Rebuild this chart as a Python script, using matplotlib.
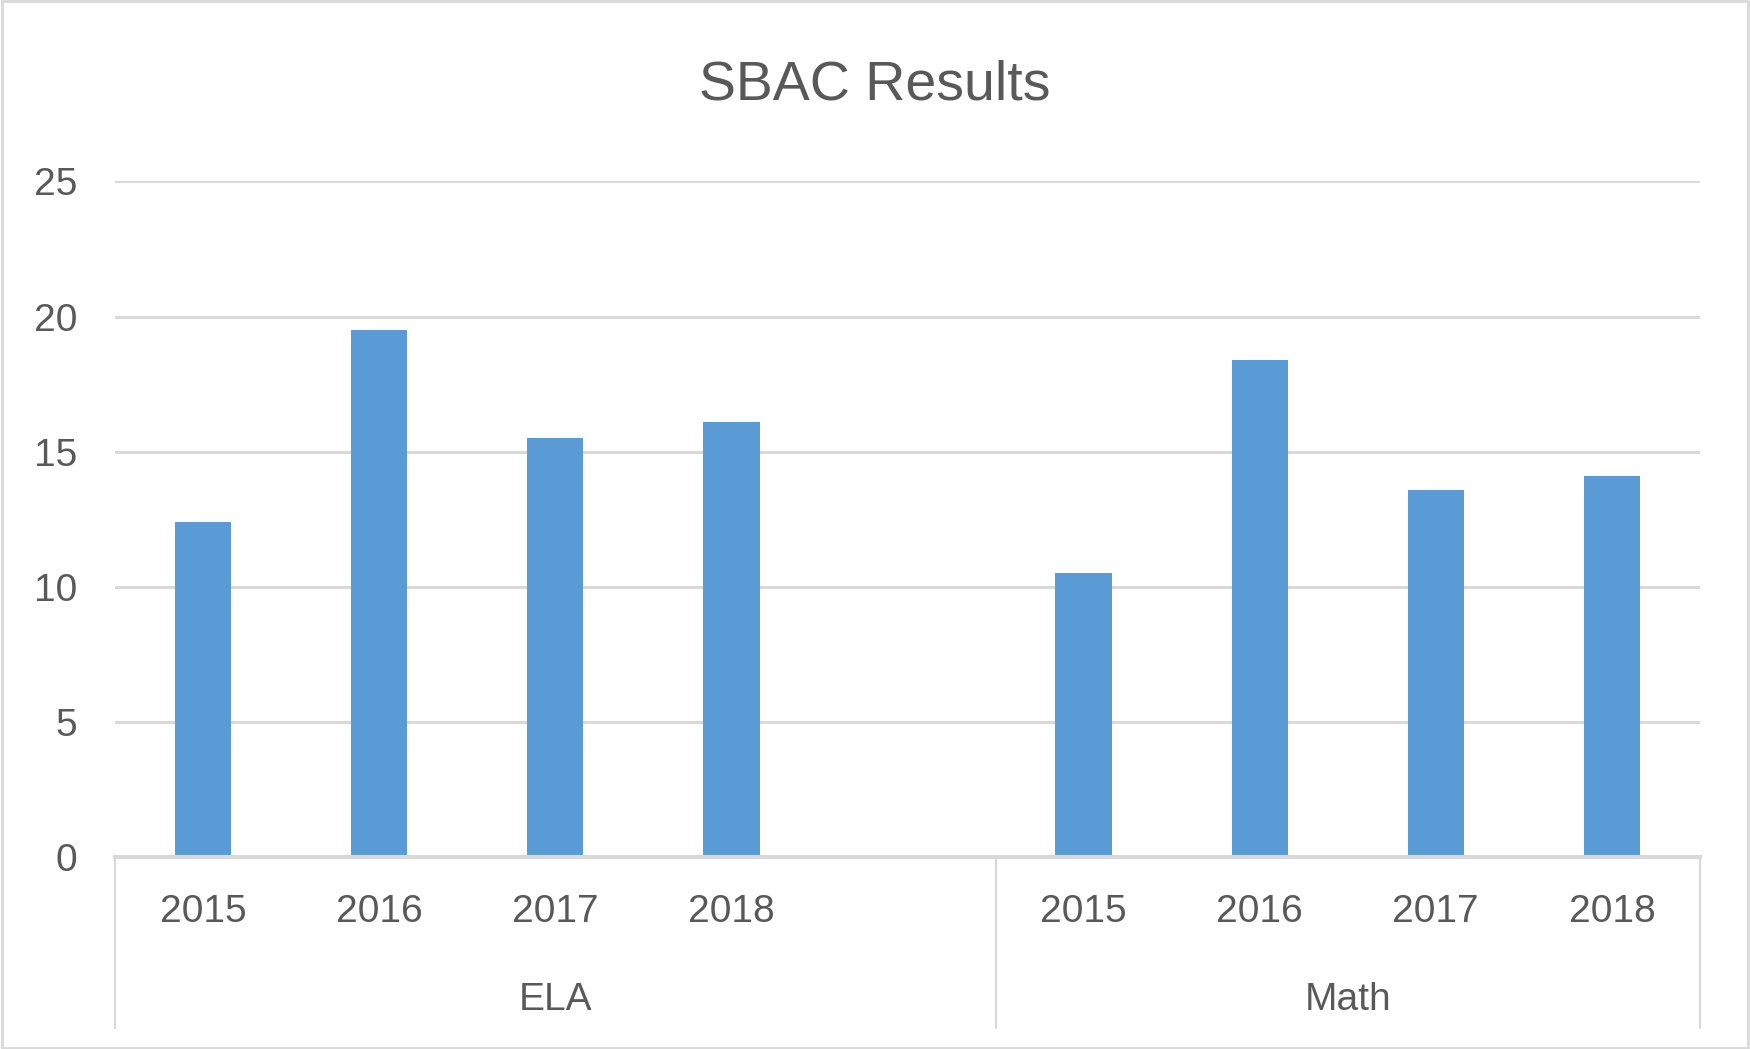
import numpy as np
import matplotlib
matplotlib.use("Agg")
import matplotlib.pyplot as plt
from matplotlib.patches import Rectangle
import matplotlib.transforms as mtransforms

# chart data
categories = ["2015", "2016", "2017", "2018", "", "2015", "2016", "2017", "2018"]
groups = ["ELA", "Math"]
group_sizes = [5, 4]
values = [12.4, 19.5, 15.5, 16.1, None, 10.5, 18.4, 13.6, 14.1]
y_ticks = [0, 5, 10, 15, 20, 25]

BAR_COLOR = "#5B9BD5"
TEXT_COLOR = "#595959"
GRID_COLOR = "#D9D9D9"

plt.rcParams["font.family"] = ["Liberation Sans", "DejaVu Sans"]


def main():
    fig = plt.figure(figsize=(17.5, 10.49), dpi=100)
    ax = fig.add_axes([0.0657, 0.1826, 0.9057, 0.6446])

    xs = [i for i, v in enumerate(values) if v is not None]
    hs = [v for v in values if v is not None]
    ax.bar(xs, hs, width=0.32, color=BAR_COLOR, zorder=3)

    ax.set_xlim(-0.5, len(categories) - 0.5)
    ax.set_ylim(0, 25)
    ax.set_yticks(y_ticks)
    ax.set_yticklabels([str(t) for t in y_ticks])
    ax.yaxis.grid(True, color=GRID_COLOR, linewidth=2.2, zorder=0)
    ax.set_axisbelow(True)

    ax.set_xticks(range(len(categories)))
    ax.set_xticklabels(categories)
    ax.tick_params(axis="x", length=0, pad=26, labelsize=28, labelcolor=TEXT_COLOR)
    ax.tick_params(axis="y", length=0, pad=27, labelsize=28, labelcolor=TEXT_COLOR)

    for side in ["top", "right", "left"]:
        ax.spines[side].set_visible(False)
    ax.spines["bottom"].set_color(GRID_COLOR)
    ax.spines["bottom"].set_linewidth(3)
    ax.spines["bottom"].set_zorder(4)

    # multi-level category axis: group labels and separators
    trans = mtransforms.blended_transform_factory(ax.transData, ax.transAxes)
    start = -0.5
    bounds = [start]
    for name, size in zip(groups, group_sizes):
        end = start + size
        ax.text((start + end) / 2, -0.211, name, transform=trans, ha="center",
                va="center", fontsize=28, color=TEXT_COLOR)
        bounds.append(end)
        start = end
    for b in bounds:
        ax.plot([b, b], [0, -0.252], transform=trans, color=GRID_COLOR,
                linewidth=1.5, clip_on=False)

    fig.suptitle("SBAC Results", x=0.5, y=0.943, fontsize=40, color=TEXT_COLOR)

    fig.patches.append(Rectangle((0.001, 0.001), 0.998, 0.998, transform=fig.transFigure,
                                 fill=False, edgecolor=GRID_COLOR, linewidth=2))

    fig.savefig("out.png", dpi=100)


if __name__ == "__main__":
    main()
